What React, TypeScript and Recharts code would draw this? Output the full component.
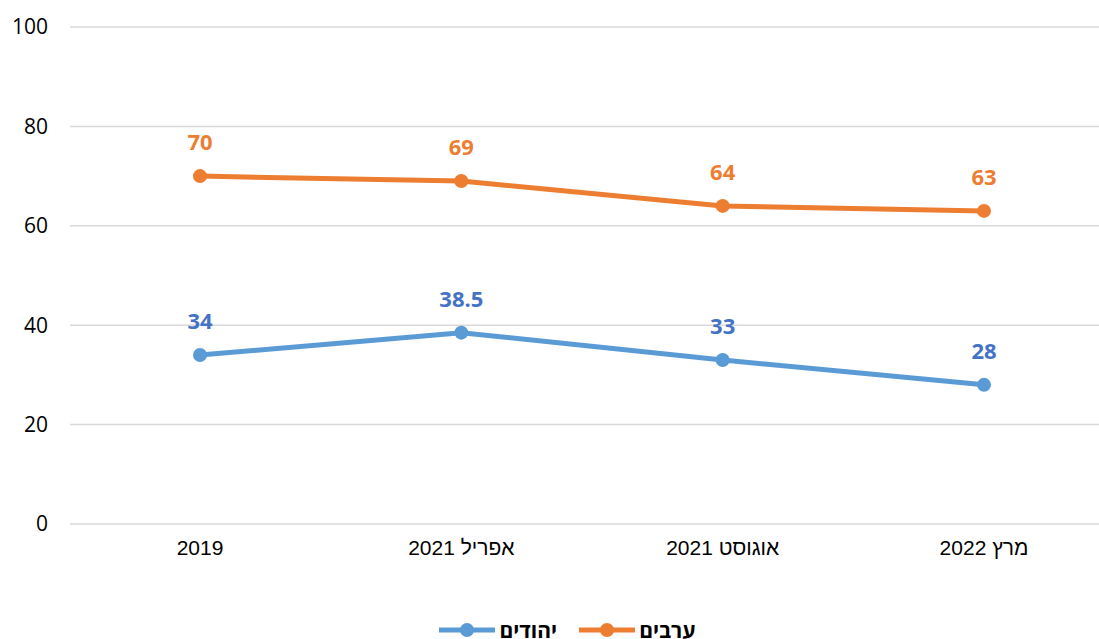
import { LineChart, Line, XAxis, YAxis, CartesianGrid, LabelList } from "recharts";

const CATEGORIES = ["2019", "אפריל 2021", "אוגוסט 2021", "מרץ 2022"];
const ARABS = [70, 69, 64, 63];
const JEWS = [34, 38.5, 33, 28];
const Y_TICKS = [0, 20, 40, 60, 80, 100];

const ORANGE = "#ED7D31";
const BLUE = "#5B9BD5";
const BLUE_LABEL = "#4472C4";

const data = CATEGORIES.map((name, i) => ({ name, arabs: ARABS[i], jews: JEWS[i] }));

function LegendItem({ color, label }: { color: string; label: string }) {
  return (
    <div style={{ display: "flex", alignItems: "center", gap: 4 }}>
      <svg width={56} height={14}>
        <line x1={0} y1={7} x2={56} y2={7} stroke={color} strokeWidth={5} strokeLinecap="round" />
        <circle cx={28} cy={7} r={7} fill={color} />
      </svg>
      <span style={{ fontWeight: "bold", fontSize: 21, color: "#000" }}>{label}</span>
    </div>
  );
}

export default function App() {
  return (
    <div
      style={{
        position: "absolute",
        left: 0,
        top: 0,
        width: 1099,
        height: 639,
        overflow: "hidden",
        background: "#fff",
        fontFamily: "'Open Sans', sans-serif",
      }}
    >
      <LineChart width={1114} height={639} data={data} margin={{ top: 27, right: 0, left: 0, bottom: 75 }}>
        <CartesianGrid vertical={false} stroke="#d9d9d9" strokeWidth={1.5} />
        <XAxis
          dataKey="name"
          height={40}
          padding={{ left: 130, right: 130 }}
          axisLine={false}
          tickLine={false}
          tickSize={0}
          tickMargin={16}
          tick={{ fill: "#000", fontSize: 21, fontFamily: "'Liberation Sans', Arial, sans-serif" }}
        />
        <YAxis
          domain={[0, 100]}
          ticks={Y_TICKS}
          width={70}
          axisLine={false}
          tickLine={false}
          tickSize={0}
          tickMargin={22}
          tick={{ fill: "#000", fontSize: 21, fontFamily: "'Open Sans', sans-serif" }}
        />
        <Line
          type="linear"
          dataKey="arabs"
          stroke={ORANGE}
          strokeWidth={5}
          dot={{ r: 7, fill: ORANGE, stroke: "none" }}
          isAnimationActive={false}
        >
          <LabelList dataKey="arabs" position="top" offset={26} fill={ORANGE} fontSize={22} fontWeight="bold" />
        </Line>
        <Line
          type="linear"
          dataKey="jews"
          stroke={BLUE}
          strokeWidth={5}
          dot={{ r: 7, fill: BLUE, stroke: "none" }}
          isAnimationActive={false}
        >
          <LabelList dataKey="jews" position="top" offset={26} fill={BLUE_LABEL} fontSize={22} fontWeight="bold" />
        </Line>
      </LineChart>
      <div
        style={{
          position: "absolute",
          top: 616,
          left: 0,
          width: 1135,
          display: "flex",
          justifyContent: "center",
          gap: 22,
        }}
      >
        <LegendItem color={BLUE} label="יהודים" />
        <LegendItem color={ORANGE} label="ערבים" />
      </div>
    </div>
  );
}
